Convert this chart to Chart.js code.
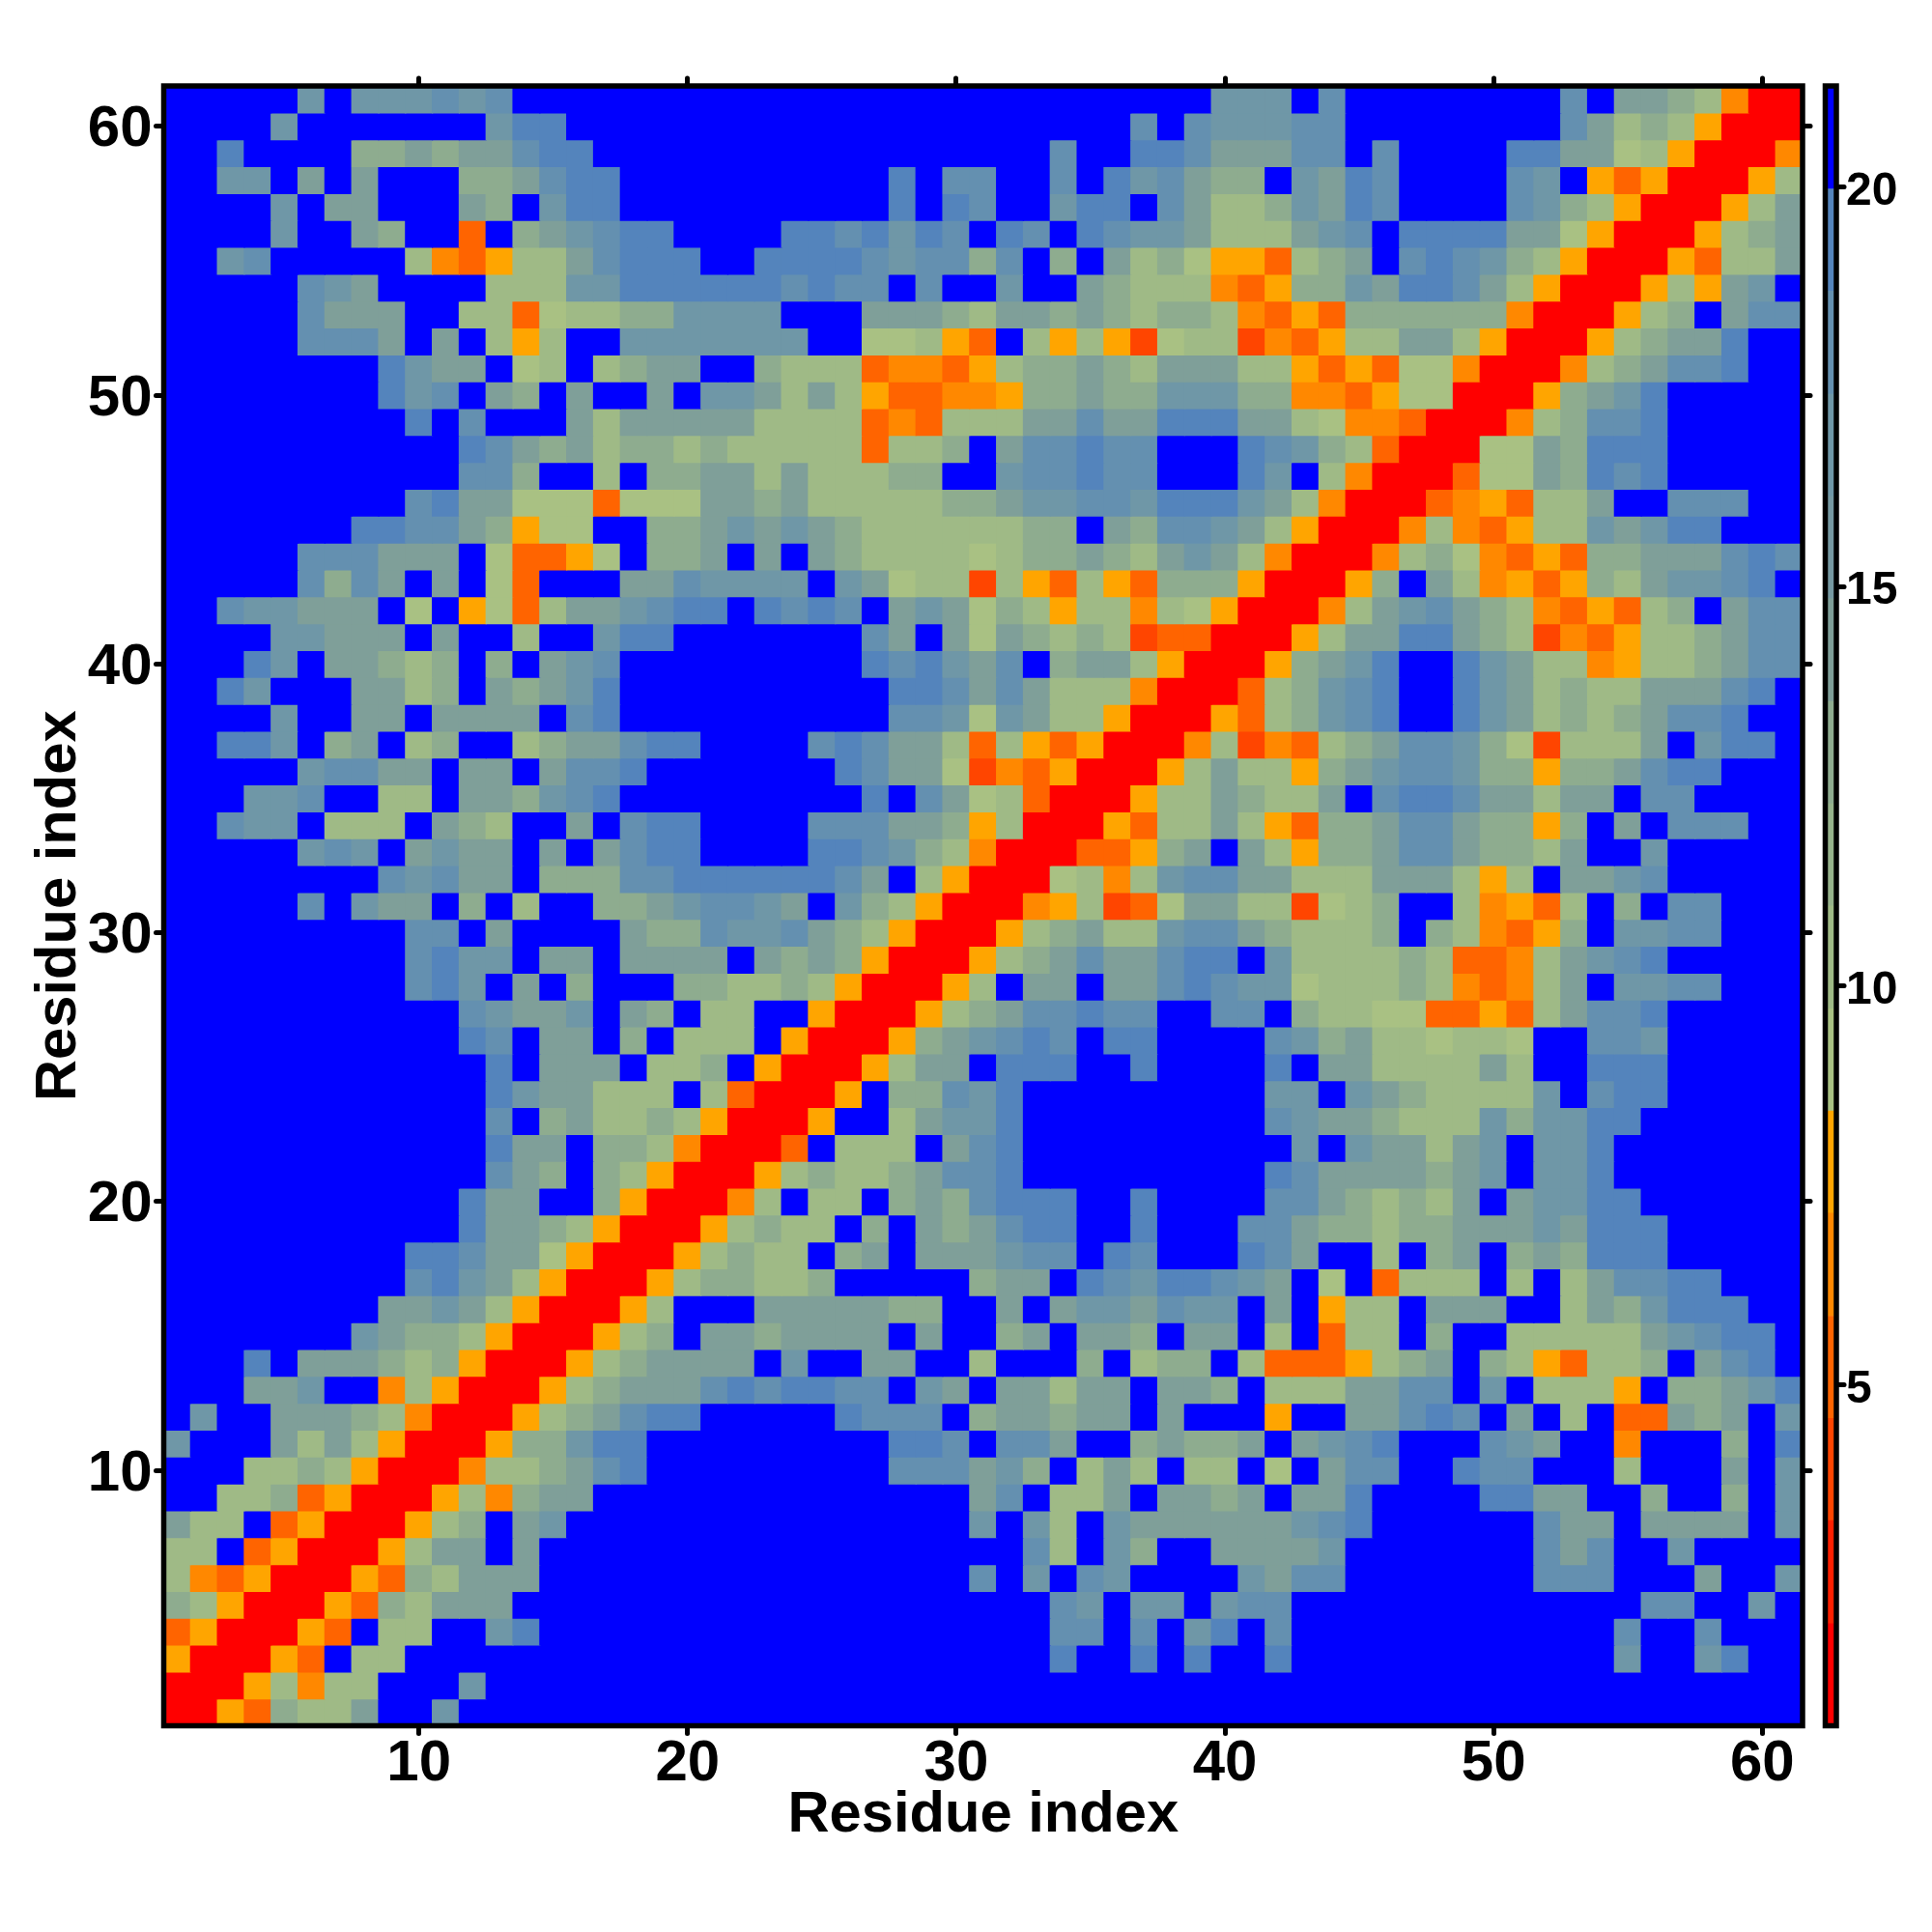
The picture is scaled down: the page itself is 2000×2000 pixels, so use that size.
<!DOCTYPE html>
<html>
<head>
<meta charset="utf-8">
<title>Residue index</title>
<script src="https://cdn.jsdelivr.net/npm/chart.js@4"></script>
<style>
  html, body { margin: 0; padding: 0; background: #fff; }
  #wrap { position: relative; width: 2000px; height: 2000px; }
  canvas { position: absolute; top: 0; }
  #map { left: 0; }
  #bar { left: 1860px; }
</style>
</head>
<body>
<div id="wrap">
  <canvas id="map" width="2000" height="2000"></canvas>
  <canvas id="bar" width="140" height="2000"></canvas>
</div>
<script>
const residues = Array.from({ length: 61 }, (_, i) => i + 1)
const axisTicks = [10, 20, 30, 40, 50, 60]
const barTicks = [5, 10, 15, 20]

// colour levels, lowest distance first; the code letter is what rows use
const levelCodes = ['R', 's', 'q', 'o', 'n', 'm', 'a', 'b', 'h', 'c', 'd', 'i', 'e', 'f', 'g', '.']
const levelColors = [
  '#ff0000', '#ff2000', '#ff4500', '#ff6400', '#ff8800', '#ffa500',
  '#a9c183', '#9fba86', '#96b38b', '#8eac8f', '#7f9f99', '#7699a2',
  '#6f97a7', '#6490b0', '#5484bc', '#0000ff'
]
const levelEdges = [0.73, 2.01, 3.3, 4.58, 5.86, 7.15, 8.43, 9.71, 11, 12.28, 13.56, 14.85, 16.13, 17.41, 18.7, 19.98, 21.27]

// rows from residue 61 (top) down to 1, columns 1-20, 21-40, 41-61
const rows = [
  '.....e.eeefef....... ...................e ee.f........f.ddcbnRR',
  '....e.......egg..... ................f.fe eeff........fdbcbmRRR',
  '..g....ccdcddfgg.... .............f..ggfd ddff.f....ggddabmRRRn',
  '..ee.d.d...ccdfgg... .......g.ff..f.gefdc c.edgf....fe.momRRRmb',
  '....e.dd...dc.egg... .......g.gf..egg.fdb bcedgf....fecbmRRRmbd',
  '....e..dc..o.cdefgg. ...ggfgegf.gf.gfeedb bbdef.ggggddamRRRmbcd',
  '..ef.....bnombbdfggg ..ggggfeffcf.c.dbcam mobcd.fgfecbmRRRmobbd',
  '.....fed....bbbeeggg gggfgff.f..e..dcbbbn omccedggfdbmRRRmbmde.',
  '.....fddd..bboabbcce eee...dddcbddcdcbccb nomoccccccnRRRmbc.dff',
  '.....fffd.d.bmb..eee eeee..aabmo.bmbmqabb qnombbddbmRRRmbcddg..',
  '........gedd.ab.bcdd ..cbbbonnombccdcbddd bbmomoaanRRRnbcdffg..',
  '........gef.dc.d..d. eedbdbmoonnmccdcceee ccnnomaaRRRmcdeg.....',
  '.........g.f...dbddd ddbbbbonobbbddfddggg ddbannoRRRnbcffg.....',
  '...........gfdcdbccb cbbbbbobbc.dffgff... gfecboRRRaadcggg.....',
  '...........ffc..b.cc ddbdbbbcc..effgff... ge.bnRRRoaadcgfg.....',
  '.........fgddaaaoaaa ddcdbbbbbccdeeffeggg edbnRRRonmobbd..fff..',
  '.......ggffdcmaa..cc dededcbbbbbbcc.dcffe dbmRRRnbnombbedegg...',
  '.....fffddd.aooma.cc d.d.dcbbbbabccdcbded bnRRRnbcanomoccdddfgf',
  '.....fcfd.d.ao...ddf eeee.edabbqbmobmoccc mRRRmc.dbnmomcbdeefg.',
  '..feeddd.a.maobddefg g.gfgf.dedacbmbbnbam RRRnbdefdcbnomobc.dff',
  '....eeddd.d..b..egg. ......fd.dadcbcbqooR RRmbddggdcbqnombbcdff',
  '...ge.ddcbc.c.def... ......gfgedf.cddbmRR Rmcdeg..gedbbnmbbcdff',
  '..ge...ddbc.dcdeg... .......ggfdfdbbbnRRR obcefg..gedbcbbdddfg.',
  '....e..dd.dddd.fg... .......ffeaedbbmRRRm obcefg..gedbcbcdffg..',
  '..gge.cd.bc..bcddfgg ....fgfddbobmomRRRnb qnobcdffecaqbbbd.egg.',
  '.....effdd.dd.dffg.. .....gfddaqnomRRRmbd bbmcdeffeccmccdfgg...',
  '...eef..bb.ddcefg... ......g.fdaboRRRmbbd cbbd.fggfddbdd.ff....',
  '..fee.bbb.dcb..d.fgg ....fffddcmbRRRmobbd bmoccdffdccmc.d.fff..',
  '.....efe.dedd.d.dfgg ....ggfecbnRRRoomcd. dbmccdffdccbd..e.....',
  '........fefdd.cccffg gggggfd.bmRRRabnbeff ddbbbdddbmb.ddef.....',
  '.....f.edd.c.b..ccde ffed.ecbmRRRnmbqoadd bbqabc..bnmob.c.ff...',
  '.........ff.d....dcc feefdcbmRRRmbcdbbeff dcbbbc.cbnomc.eeff...',
  '.........fgee.dd.ddd d.dcdcmRRRmbcdfddfgg .ebbbbcboonbdefg.....',
  '.........fge.d.c...c cbbcbmRRRmb.dd.ddfgf eeabbbcbnonbd.eeff...',
  '...........fedde.dc. bb..mRRRmbcdffgff..f f.cbbaaoomobdffg.....',
  '...........gf.dd.c.b bb.mRRRmcdefgf.gg... .fecdbbabba..ffe.....',
  '............g.ddd.bb c.mRRRmbdd.ggg..g... .g.ddbbbbdb..ggg.....',
  '............geddbbb. boRRRm.ccfeg........ .ee.edcbbbbe.fgg.....',
  '............f.cdbbcb mRRRm..bdeeg........ .feddcbbbeceegg......',
  '............gdd.ccbn RRRo.bbb.dfg........ ..e.eddbde.eeg.......',
  '............fdc.cbmR RRmbcbbcdffg........ .gfddddcde.eeg.......',
  '...........gdd..cmRR Rnb.bb.cdcfggg..g... .ffdcbcbd.deegg......',
  '...........gddcbmRRR mbcbb.c.dcdfgg..g... ffdccbccdddedggg.....',
  '.........ggfddamRRRm bcbb.cd.dddeff.gf... gfd..b.cd.cdcggg.....',
  '.........fgedbmRRRmb ccbbc.....cdd.gfeggf ed.a.obbb.b.bdffgg...',
  '........ddedbmRRRmb. ..dddddcc..d.deedfee .d.mbb.ddd..bdceggg..',
  '.......edccbmRRRmbc. ddcdddd.d..cd.ddc.dd .b.obb.c..bbbbbdefgg.',
  '...g.dddcbcmRRRmbcdd dd.e..dd..b...c.bcc. booombcd.cbmobbc.dfg.',
  '...dde..nbmRRRmbcddd fgfggff.ed.ddbdd.ddc .bbbddff.e.bbbm.ccdeg',
  '.e..dddcbnRRRmbcdfgg .....gfff.cddcdd.d.. .m..ddfgf.d.b.oodcd.e',
  'e...dbdbmRRRmccegg.. .......ggf.ffd..cdcc d.defg...fed..n...c.g',
  '...bbcbmRRRnbbcdfg.. .......fffdec.bdb.bb .a.dff..gff...b...d.e',
  '..bbcomRRRmbncdd.... ..........df.bbd.ddc d.ddg....ggdd..c..c.e',
  'dbb.omRRRmbc.de..... ..........e.eb.edddd ddefg......fdd.dddd.e',
  'bb.omRRRmbdd.d...... ............fb.ec..d ddde.......fdf..e....',
  'bnomRRRmocbddd...... ..........f.e.fe.... edff.......fff...d..e',
  'cbmRRRmocbddd....... .............fe.ee.e ff.............ff..e.',
  'omRRRmo.bb..eg...... .............ff.f.eg .f............f..f...',
  'mRRRmo.bb........... .............g..g.g. .g............e..eg..',
  'RRRmbnbb...e........ .................... .....................',
  'RRmocbbd..e......... .................... .....................'
]

const black = '#000000'
const boldFont = size => ({ family: '"Liberation Sans", Arial, sans-serif', weight: 'bold', size })

// heatmap cells are floating bars, one dataset per row
const cellDatasets = rows.map((row, i) => {
  const y = 61 - i
  const codes = row.replace(/ /g, '').split('')
  return {
    data: residues.map(() => [y - 0.5, y + 0.5]),
    backgroundColor: codes.map(c => levelColors[levelCodes.indexOf(c)]),
    grouped: false,
    barPercentage: 1,
    categoryPercentage: 1,
    inflateAmount: 0.6,
    xAxisID: 'x',
    yAxisID: 'y'
  }
})

const keepCategoryTicks = axis => {
  axis.ticks = axis.ticks.filter(t => axisTicks.includes(Number(axis.getLabelForValue(t.value))))
}
const setLinearTicks = values => axis => {
  axis.ticks = values.map(value => ({ value }))
}
const tickGrid = { drawOnChartArea: false, offset: false, color: black, tickColor: black, tickWidth: 5, tickLength: 8 }

// black box over the cells, and round ends on the tick marks
const framePlugin = width => ({
  id: 'frame',
  beforeDraw(chart) {
    chart.ctx.save()
    chart.ctx.lineCap = 'round'
  },
  afterDraw(chart) {
    const { ctx, chartArea: a } = chart
    ctx.restore()
    ctx.save()
    ctx.strokeStyle = black
    ctx.lineWidth = width
    ctx.strokeRect(a.left, a.top, a.right - a.left, a.bottom - a.top)
    ctx.restore()
  }
})

new Chart(document.getElementById('map'), {
  type: 'bar',
  data: { labels: residues, datasets: cellDatasets },
  plugins: [framePlugin(5.5)],
  options: {
    responsive: false,
    animation: false,
    events: [],
    layout: { padding: { left: 25.5, bottom: 85, top: 0, right: 0 } },
    plugins: { legend: { display: false }, tooltip: { enabled: false } },
    scales: {
      x: {
        type: 'category',
        position: 'bottom',
        offset: true,
        grid: tickGrid,
        border: { display: false },
        afterBuildTicks: keepCategoryTicks,
        afterFit: axis => { axis.height = 128.5 },
        ticks: { autoSkip: false, maxRotation: 0, color: black, font: boldFont(60), padding: -4 },
        title: { display: true, text: 'Residue index', color: black, font: boldFont(59.7), padding: 0 }
      },
      xTop: {
        type: 'category',
        position: 'top',
        offset: true,
        grid: tickGrid,
        border: { display: false },
        afterBuildTicks: keepCategoryTicks,
        afterFit: axis => { axis.height = 89 },
        ticks: { display: false, autoSkip: false }
      },
      y: {
        type: 'linear',
        position: 'left',
        min: 0.5,
        max: 61.5,
        grid: tickGrid,
        border: { display: false },
        afterBuildTicks: setLinearTicks(axisTicks),
        afterFit: axis => { axis.width = 144 },
        ticks: { color: black, font: boldFont(60), padding: 4, labelOffset: 4 },
        title: { display: true, text: 'Residue index', color: black, font: boldFont(59.7), padding: 0 }
      },
      yRight: {
        type: 'linear',
        position: 'right',
        min: 0.5,
        max: 61.5,
        grid: tickGrid,
        border: { display: false },
        afterBuildTicks: setLinearTicks(axisTicks),
        afterFit: axis => { axis.width = 134 },
        ticks: { display: false }
      }
    }
  }
})

// colour key
new Chart(document.getElementById('bar'), {
  type: 'bar',
  data: {
    labels: ['key'],
    datasets: levelColors.map((color, i) => ({
      data: [[levelEdges[i], levelEdges[i + 1]]],
      backgroundColor: color,
      grouped: false,
      barPercentage: 1,
      categoryPercentage: 1
    }))
  },
  plugins: [framePlugin(5.5)],
  options: {
    responsive: false,
    animation: false,
    events: [],
    layout: { padding: { left: 29.5, top: 89, bottom: 213.5, right: 0 } },
    plugins: { legend: { display: false }, tooltip: { enabled: false } },
    scales: {
      x: {
        type: 'category',
        position: 'bottom',
        offset: true,
        display: true,
        grid: { display: false },
        border: { display: false },
        ticks: { display: false },
        afterFit: axis => { axis.height = 0 }
      },
      y: {
        type: 'linear',
        position: 'right',
        min: levelEdges[0],
        max: levelEdges[levelEdges.length - 1],
        grid: tickGrid,
        border: { display: false },
        afterBuildTicks: setLinearTicks(barTicks),
        afterFit: axis => { axis.width = 99 },
        ticks: { color: black, font: boldFont(48), padding: 2, labelOffset: 5 }
      }
    }
  }
})
</script>
</body>
</html>
